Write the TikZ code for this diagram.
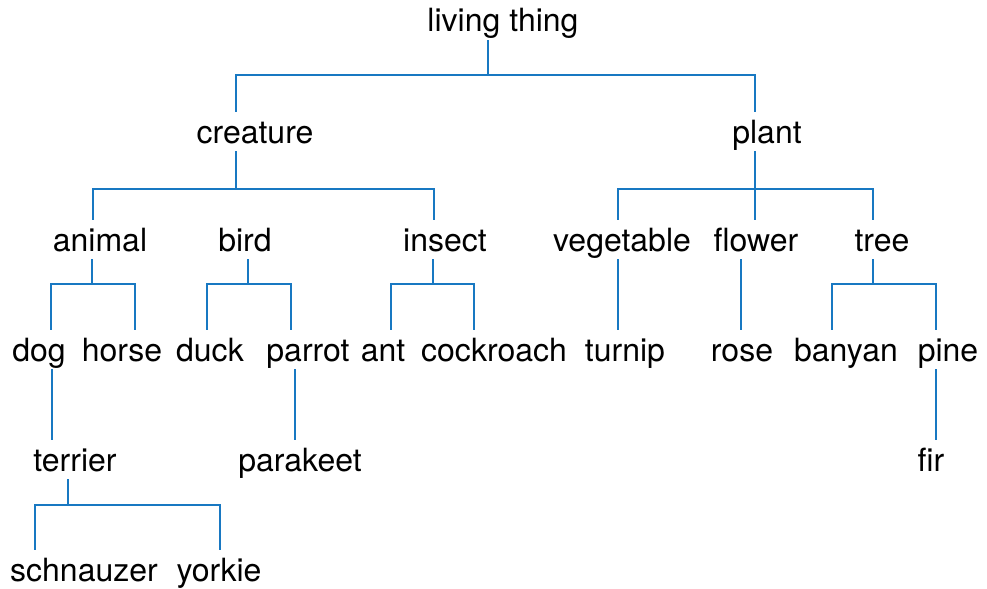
\documentclass[tikz,border=0pt]{standalone}
\usepackage{fontspec}
\setmainfont{TeX Gyre Heros}
\usepackage{xcolor}
\usepackage{tikz}
\definecolor{linkblue}{RGB}{24,120,194}

\begin{document}
\begin{tikzpicture}[
    x=0.5pt, y=-0.5pt,
    font=\fontsize{16}{19}\selectfont,
    item/.style = {anchor=base, inner xsep=0pt, inner ysep=3pt,
                   text height=12.5pt, text depth=1pt},
    link/.style = {draw=linkblue, line width=0.75pt},
]
\useasboundingbox (0,0) rectangle (987,589);

%% ── Nodes ────────────────────────────────────────────────────────────────
\node[item] (living)    at (503, 32)  {living thing};

\node[item] (creature)  at (255,143)  {creature};
\node[item] (plant)     at (767,143)  {plant};

\node[item] (animal)    at (100,251)  {animal};
\node[item] (bird)      at (245,251)  {bird};
\node[item] (insect)    at (445,251)  {insect};
\node[item] (vegetable) at (622,251)  {vegetable};
\node[item] (flower)    at (756,251)  {flower};
\node[item] (tree)      at (882,251)  {tree};

\node[item] (dog)       at ( 39,361)  {dog};
\node[item] (horse)     at (122,361)  {horse};
\node[item] (duck)      at (210,361)  {duck};
\node[item] (parrot)    at (308,361)  {parrot};
\node[item] (ant)       at (383,361)  {ant};
\node[item] (cockroach) at (494,361)  {cockroach};
\node[item] (turnip)    at (625,361)  {turnip};
\node[item] (rose)      at (742,361)  {rose};
\node[item] (banyan)    at (846,361)  {banyan};
\node[item] (pine)      at (948,361)  {pine};

\node[item] (terrier)   at ( 75,471)  {terrier};
\node[item] (parakeet)  at (300,471)  {parakeet};
\node[item] (fir)       at (931,471)  {fir};

\node[item] (schnauzer) at ( 84,581)  {schnauzer};
\node[item] (yorkie)    at (219,581)  {yorkie};

%% ── Junctions ────────────────────────────────────────────────────────────
\coordinate (living-j)   at (488, 75);
\coordinate (creature-j) at (236,189);
\coordinate (plant-j)    at (755,189);
\coordinate (animal-j)   at ( 92,284);
\coordinate (bird-j)     at (248,284);
\coordinate (insect-j)   at (433,284);
\coordinate (tree-j)     at (873,284);
\coordinate (terrier-j)  at ( 68,505);

%% ── Links ────────────────────────────────────────────────────────────────
\draw[link] (living.south -| living-j) -- (living-j);
\draw[link] (creature.north -| creature-j) |- (living-j) -| (plant.north -| plant-j);

\draw[link] (creature.south -| creature-j) -- (creature-j);
\draw[link] (animal.north -| 93,0) |- (creature-j) -| (insect.north -| 434,0);

\draw[link] (plant.south -| plant-j) -- (flower.north -| plant-j);
\draw[link] (vegetable.north -| 618,0) |- (plant-j) -| (tree.north -| tree-j);

\draw[link] (animal.south -| animal-j) -- (animal-j);
\draw[link] (dog.north -| 51,0) |- (animal-j) -| (horse.north -| 135,0);

\draw[link] (bird.south -| bird-j) -- (bird-j);
\draw[link] (duck.north -| 207,0) |- (bird-j) -| (parrot.north -| 291,0);

\draw[link] (insect.south -| insect-j) -- (insect-j);
\draw[link] (ant.north -| 391,0) |- (insect-j) -| (cockroach.north -| 474,0);

\draw[link] (vegetable.south -| 618,0) -- (turnip.north -| 618,0);
\draw[link] (flower.south -| 741,0) -- (rose.north -| 741,0);

\draw[link] (tree.south -| tree-j) -- (tree-j);
\draw[link] (banyan.north -| 832,0) |- (tree-j) -| (pine.north -| 936,0);

\draw[link] (dog.south -| 52,0) -- (terrier.north -| 52,0);
\draw[link] (parrot.south -| 295,0) -- (parakeet.north -| 295,0);
\draw[link] (pine.south -| 936,0) -- (fir.north -| 936,0);

\draw[link] (terrier.south -| terrier-j) -- (terrier-j);
\draw[link] (schnauzer.north -| 35,0) |- (terrier-j) -| (yorkie.north -| 220,0);

\end{tikzpicture}
\end{document}
